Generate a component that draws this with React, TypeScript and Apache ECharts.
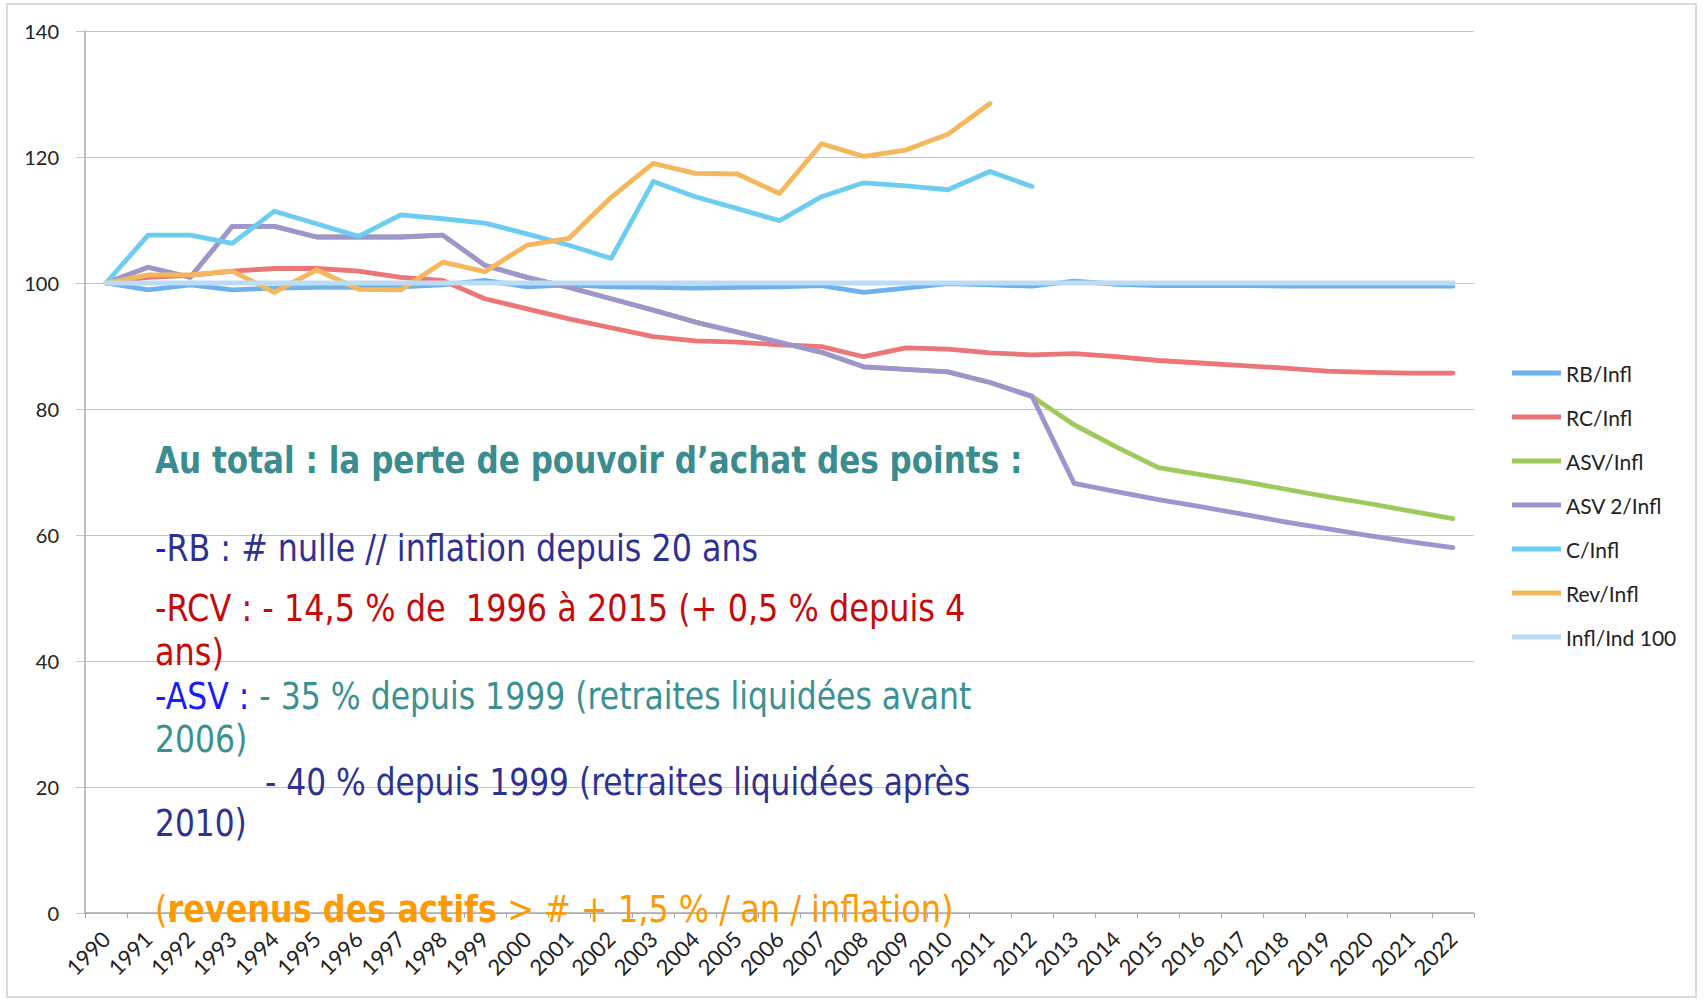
import React, { useEffect, useRef } from "react";
import * as echarts from "echarts";

const years = [
  "1990", "1991", "1992", "1993", "1994", "1995", "1996", "1997", "1998", "1999",
  "2000", "2001", "2002", "2003", "2004", "2005", "2006", "2007", "2008", "2009",
  "2010", "2011", "2012", "2013", "2014", "2015", "2016", "2017", "2018", "2019",
  "2020", "2021", "2022",
];

const rbInfl = [100, 98.9, 99.7, 98.9, 99.2, 99.3, 99.3, 99.4, 99.7, 100.4, 99.4, 99.7, 99.4, 99.3, 99.2, 99.3, 99.4, 99.6, 98.5, 99.2, 99.9, 99.7, 99.5, 100.3, 99.8, 99.6, 99.6, 99.6, 99.5, 99.5, 99.5, 99.5, 99.5];
const rcInfl = [100, 100.9, 101.2, 101.9, 102.3, 102.3, 101.9, 100.9, 100.4, 97.5, 95.9, 94.3, 92.9, 91.5, 90.8, 90.6, 90.2, 89.9, 88.3, 89.7, 89.5, 88.9, 88.6, 88.8, 88.3, 87.7, 87.3, 86.9, 86.5, 86.0, 85.8, 85.7, 85.7];
const asvInfl = [100, 102.5, 100.9, 109.0, 109.0, 107.3, 107.3, 107.3, 107.6, 102.8, 100.9, 99.3, 97.5, 95.7, 93.8, 92.2, 90.6, 89.0, 86.7, 86.3, 85.9, 84.2, 82.0, 77.5, 74.0, 70.7, 69.6, 68.5, 67.3, 66.1, 65.0, 63.8, 62.6];
const asv2Infl = [100, 102.5, 100.9, 109.0, 109.0, 107.3, 107.3, 107.3, 107.6, 102.8, 100.9, 99.3, 97.5, 95.7, 93.8, 92.2, 90.6, 89.0, 86.7, 86.3, 85.9, 84.2, 82.0, 68.2, 66.9, 65.6, 64.5, 63.3, 62.1, 61.0, 59.9, 58.9, 58.0];
const cInfl = [100, 107.6, 107.6, 106.3, 111.4, 109.4, 107.4, 110.8, 110.2, 109.5, 107.8, 106.0, 103.9, 116.1, 113.7, 111.8, 109.9, 113.7, 115.9, 115.4, 114.8, 117.7, 115.3, null, null, null, null, null, null, null, null, null, null];
const revInfl = [100, 101.3, 101.3, 101.9, 98.5, 102.1, 99.0, 98.9, 103.3, 101.8, 106.0, 107.1, 113.6, 119.0, 117.4, 117.3, 114.2, 122.1, 120.1, 121.1, 123.6, 128.5, null, null, null, null, null, null, null, null, null, null, null];
const inflInd100 = [100, 100, 100, 100, 100, 100, 100, 100, 100, 100, 100, 100, 100, 100, 100, 100, 100, 100, 100, 100, 100, 100, 100, 100, 100, 100, 100, 100, 100, 100, 100, 100, 100];

const seriesNames = ["RB/Infl", "RC/Infl", "ASV/Infl", "ASV 2/Infl", "C/Infl", "Rev/Infl", "Infl/Ind 100"];
const seriesData = [rbInfl, rcInfl, asvInfl, asv2Infl, cInfl, revInfl, inflInd100];
const seriesColors = ["#6fb1ea", "#ec7677", "#9ccb5c", "#9e95cf", "#6dcdf0", "#f5b75c", "#bcdcf5"];
const seriesWidths = [4.8, 4.8, 4.8, 4.8, 4.8, 4.8, 5.2];

const yMin = 0;
const yMax = 140;
const yStep = 20;

const TXT_FONT = "DejaVu Sans";
const TXT_SIZE = 37;

export default function App() {
  const ref = useRef<HTMLDivElement>(null);

  useEffect(() => {
    document.body.style.margin = "0";
    if (!ref.current) return;
    const chart = echarts.init(ref.current, undefined, { renderer: "svg" });

    const plain = (fill: string, weight = "normal") => ({
      fill,
      fontFamily: TXT_FONT,
      fontSize: TXT_SIZE,
      fontWeight: weight,
    });

    const textEl = (x: number, y: number, text: string, rich: any, sx = 0.858) => ({
      type: "text",
      x,
      y,
      scaleX: sx,
      z: 100,
      style: {
        text,
        rich,
        fontFamily: TXT_FONT,
        fontSize: TXT_SIZE,
        verticalAlign: "middle",
        align: "left",
      },
    });

    const option: any = {
      animation: false,
      backgroundColor: "#ffffff",
      grid: { left: 85, right: 230, top: 31, bottom: 87, containLabel: false },
      legend: {
        orient: "vertical",
        left: 1507,
        top: 357,
        icon: "rect",
        itemWidth: 49,
        itemHeight: 5,
        itemGap: 22,
        textStyle: { fontFamily: "Lato", fontSize: 21, color: "#222222", lineHeight: 22, padding: [0, 0, 0, 0] },
        data: seriesNames,
      },
      xAxis: {
        type: "category",
        data: years,
        boundaryGap: true,
        axisLine: { lineStyle: { color: "#a8a8a8", width: 1.5 } },
        axisTick: { show: true, length: 5, lineStyle: { color: "#a8a8a8" } },
        axisLabel: {
          rotate: 45,
          interval: 0,
          margin: 22,
          fontFamily: "Lato",
          fontSize: 22,
          color: "#222222",
        },
        splitLine: { show: false },
      },
      yAxis: {
        type: "value",
        min: yMin,
        max: yMax,
        interval: yStep,
        axisLine: { show: true, lineStyle: { color: "#a8a8a8", width: 1.5 } },
        axisTick: { show: true, length: 9, lineStyle: { color: "#c4c4c4" } },
        axisLabel: { margin: 26, fontFamily: "Lato", fontSize: 20, color: "#222222" },
        splitLine: { show: true, lineStyle: { color: "#c4c4c4", width: 1.2 } },
      },
      series: seriesNames.map((name, i) => ({
        name,
        type: "line",
        data: seriesData[i],
        showSymbol: false,
        symbol: "none",
        connectNulls: false,
        color: seriesColors[i],
        lineStyle: { color: seriesColors[i], width: seriesWidths[i], cap: "round", join: "round" },
        emphasis: { disabled: true },
      })),
      graphic: [
        {
          type: "rect",
          shape: { x: 7, y: 4, width: 1689, height: 993 },
          style: { fill: "none", stroke: "#cfcfcf", lineWidth: 1.5 },
          silent: true,
          z: -10,
        },
        textEl(155, 460, "{t|Au total : la perte de pouvoir d\u2019achat des points :}", { t: plain("#3b8c8f", "bold") }, 0.84),
        textEl(155, 548, "{a|-}{b|RB : # nulle // inflation depuis 20 ans}", { a: plain("#1a1aff"), b: plain("#2f3192") }),
        textEl(155, 608, "{r|-RCV : - 14,5 % de  1996 \u00e0 2015 (+ 0,5 % depuis 4}", { r: plain("#c40a0a") }, 0.863),
        textEl(155, 652, "{r|ans)}", { r: plain("#c40a0a") }, 0.863),
        textEl(155, 696, "{a|-ASV :}{b| - 35 % depuis 1999 (retraites liquid\u00e9es avant}", { a: plain("#1a1aff"), b: plain("#3a9191") }, 0.851),
        textEl(155, 739, "{b|2006)}", { b: plain("#3a9191") }, 0.851),
        textEl(265, 782, "{b|- 40 % depuis 1999 (retraites liquid\u00e9es apr\u00e8s}", { b: plain("#2f3192") }, 0.846),
        textEl(155, 823, "{b|2010)}", { b: plain("#2f3192") }, 0.846),
        textEl(
          155,
          909,
          "{a|(}{b|revenus des actifs}{a| > # + 1,5 % / an / inflation)}",
          { a: plain("#ff9900"), b: plain("#ff9900", "bold") },
          0.863
        ),
      ],
    };

    chart.setOption(option);
    return () => chart.dispose();
  }, []);

  return <div ref={ref} style={{ width: 1704, height: 1000 }} />;
}
